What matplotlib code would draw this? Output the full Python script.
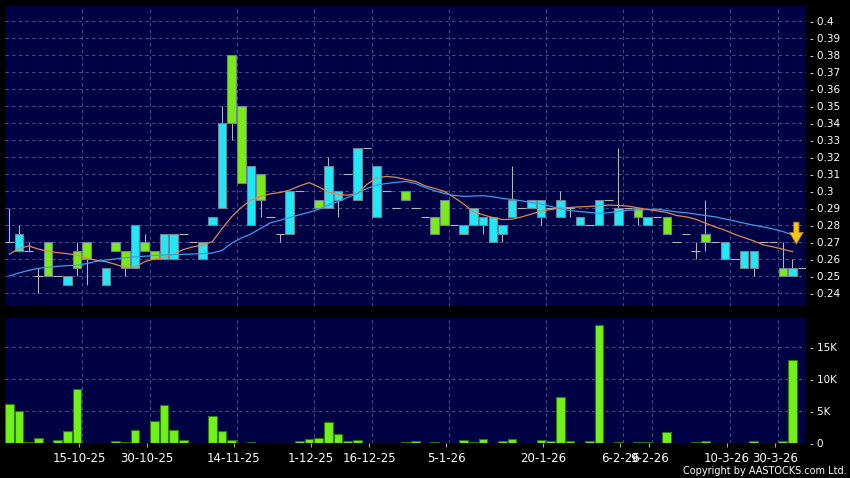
import numpy as np
import matplotlib.pyplot as plt
from matplotlib.patches import FancyArrowPatch

# daily candles, one slot per bar (None = no bar in that slot)
opens = [0.27, 0.265, 0.265, 0.25, 0.27, 0.25, 0.245, 0.265, 0.27, None,
         0.245, 0.27, 0.265, 0.255, 0.27, 0.265, 0.26, 0.26, 0.275, 0.27,
         0.26, 0.28, 0.29, 0.38, 0.35, 0.28, 0.31, 0.285, 0.275, 0.275,
         0.30, None, 0.295, 0.29, 0.295, 0.31, 0.295, 0.325, 0.285, 0.30,
         0.29, 0.30, 0.29, 0.285, 0.285, 0.295, 0.28, 0.275, 0.28, 0.28,
         0.27, 0.275, 0.285, 0.29, 0.29, 0.285, 0.29, 0.285, 0.29, 0.28,
         0.28, 0.28, 0.295, 0.28, 0.29, 0.29, 0.28, 0.285, 0.285, 0.27,
         0.275, 0.265, 0.275, 0.27, 0.26, 0.26, 0.255, 0.255, 0.27, 0.27,
         0.255, 0.25]
highs = [0.29, 0.28, 0.27, 0.255, 0.27, 0.25, 0.25, 0.27, 0.27, None,
         0.255, 0.27, 0.265, 0.28, 0.275, 0.265, 0.275, 0.275, 0.275, 0.27,
         0.27, 0.285, 0.35, 0.38, 0.35, 0.315, 0.31, 0.285, 0.275, 0.30,
         0.30, None, 0.295, 0.32, 0.30, 0.31, 0.325, 0.325, 0.315, 0.30,
         0.29, 0.30, 0.29, 0.285, 0.285, 0.295, 0.28, 0.28, 0.29, 0.285,
         0.285, 0.28, 0.315, 0.29, 0.295, 0.295, 0.29, 0.30, 0.29, 0.285,
         0.28, 0.295, 0.295, 0.325, 0.29, 0.29, 0.285, 0.285, 0.285, 0.27,
         0.275, 0.27, 0.295, 0.27, 0.27, 0.26, 0.265, 0.265, 0.27, 0.27,
         0.27, 0.26]
lows = [0.27, 0.265, 0.265, 0.24, 0.25, 0.25, 0.245, 0.25, 0.245, None,
        0.245, 0.265, 0.25, 0.255, 0.265, 0.26, 0.26, 0.26, 0.275, 0.27,
        0.26, 0.28, 0.29, 0.33, 0.305, 0.28, 0.285, 0.285, 0.27, 0.275,
        0.30, None, 0.29, 0.29, 0.285, 0.31, 0.295, 0.325, 0.285, 0.30,
        0.29, 0.295, 0.29, 0.285, 0.275, 0.28, 0.28, 0.275, 0.28, 0.275,
        0.27, 0.27, 0.285, 0.29, 0.29, 0.28, 0.29, 0.285, 0.285, 0.28,
        0.28, 0.28, 0.295, 0.28, 0.29, 0.28, 0.28, 0.285, 0.275, 0.27,
        0.275, 0.26, 0.265, 0.27, 0.26, 0.26, 0.255, 0.25, 0.27, 0.27,
        0.25, 0.25]
closes = [0.27, 0.275, 0.265, 0.25, 0.25, 0.25, 0.25, 0.255, 0.26, None,
          0.255, 0.265, 0.255, 0.28, 0.265, 0.26, 0.275, 0.275, 0.275, 0.27,
          0.27, 0.285, 0.34, 0.34, 0.305, 0.315, 0.295, 0.285, 0.275, 0.30,
          0.30, None, 0.29, 0.315, 0.30, 0.31, 0.325, 0.325, 0.315, 0.30,
          0.29, 0.295, 0.29, 0.285, 0.275, 0.28, 0.28, 0.28, 0.29, 0.285,
          0.285, 0.28, 0.295, 0.29, 0.295, 0.295, 0.29, 0.295, 0.29, 0.285,
          0.28, 0.295, 0.295, 0.29, 0.29, 0.285, 0.285, 0.285, 0.275, 0.27,
          0.275, 0.265, 0.27, 0.27, 0.27, 0.26, 0.265, 0.265, 0.27, 0.27,
          0.25, 0.255]

# volume in thousands of shares
volumes_k = [6.1, 5.1, 0.15, 0.9, 0, 0.5, 1.9, 8.5, 0.05, 0,
             0, 0.4, 0.15, 2.0, 0, 3.5, 6.0, 2.0, 0.5, 0,
             0, 4.2, 1.9, 0.5, 0.1, 0.2, 0, 0, 0.1, 0,
             0.4, 0.6, 0.8, 3.4, 1.5, 0.35, 0.5, 0, 0, 0,
             0, 0.15, 0.35, 0, 0.15, 0, 0, 0.5, 0.2, 0.6,
             0, 0.35, 0.7, 0, 0, 0.5, 0.35, 7.2, 0.3, 0,
             0.35, 18.5, 0, 0.15, 0, 0.15, 0.15, 0, 1.8, 0,
             0, 0.2, 0.35, 0, 0, 0, 0, 0.3, 0, 0,
             0.3, 13.0]

# moving averages
ma_short = [0.263, 0.2663, 0.2678, 0.2660, 0.2647, 0.2639, 0.2633, 0.2625, 0.2606, 0.2594,
            0.2586, 0.2570, 0.2551, 0.2555, 0.2586, 0.2602, 0.2610, 0.2630, 0.2657, 0.2673,
            0.2684, 0.2703, 0.2780, 0.2850, 0.2905, 0.2948, 0.2970, 0.2984, 0.2992, 0.3006,
            0.3030, 0.3050, 0.3025, 0.2994, 0.2980, 0.2976, 0.2988, 0.3040, 0.3078, 0.3086,
            0.3081, 0.3068, 0.3057, 0.3031, 0.3016, 0.2998, 0.2963, 0.2924, 0.2878, 0.2861,
            0.2845, 0.2833, 0.2835, 0.2849, 0.2865, 0.2884, 0.2892, 0.2902, 0.2904, 0.2908,
            0.2910, 0.2914, 0.2918, 0.2916, 0.2912, 0.2902, 0.2892, 0.2884, 0.2875, 0.2857,
            0.2849, 0.2835, 0.2812, 0.2790, 0.2771, 0.2747, 0.2727, 0.2708, 0.2684, 0.2673,
            0.2659, 0.2645]
ma_long = [0.2502, 0.2520, 0.2535, 0.2547, 0.2553, 0.2559, 0.2563, 0.2565, 0.2575, 0.2588,
           0.2596, 0.2602, 0.2610, 0.2614, 0.2618, 0.2622, 0.2625, 0.2627, 0.2629, 0.2631,
           0.2633, 0.2637, 0.2652, 0.2695, 0.2725, 0.2749, 0.2782, 0.2814, 0.2829, 0.2845,
           0.2861, 0.2876, 0.2894, 0.2918, 0.2939, 0.2963, 0.2986, 0.3016, 0.3035, 0.3045,
           0.3051, 0.3057, 0.3045, 0.3022, 0.3002, 0.2986, 0.2975, 0.2969, 0.2971, 0.2973,
           0.2967, 0.2957, 0.2951, 0.2943, 0.2933, 0.2924, 0.2910, 0.2896, 0.2886, 0.2880,
           0.2875, 0.2869, 0.2873, 0.2882, 0.2888, 0.2890, 0.2892, 0.2894, 0.2886, 0.2878,
           0.2873, 0.2865, 0.2857, 0.2849, 0.2837, 0.2825, 0.2812, 0.2800, 0.2790, 0.2778,
           0.2763, 0.2743]

date_labels = ["15-10-25", "30-10-25", "14-11-25", "1-12-25", "16-12-25", "5-1-26",
               "20-1-26", "6-2-26", "9-2-26", "10-3-26", "30-3-26"]
date_slots = [7, 14, 23, 31, 37, 45, 55, 63, 66, 74, 79]
price_ticks = [0.24, 0.25, 0.26, 0.27, 0.28, 0.29, 0.30, 0.31, 0.32,
               0.33, 0.34, 0.35, 0.36, 0.37, 0.38, 0.39, 0.40]
volume_ticks = [0, 5000, 10000, 15000]
volume_tick_labels = ["0", "5K", "10K", "15K"]

BG = "#000044"
GRID = "#4a4a88"
UP = "#22e8f6"
DOWN = "#7aea18"
WICK = "#b4b4b4"

o = np.array(opens, dtype=float)
h = np.array(highs, dtype=float)
l = np.array(lows, dtype=float)
c = np.array(closes, dtype=float)
x = np.arange(len(o))

fig = plt.figure(figsize=(8.5, 4.78), dpi=100, facecolor="black")
ax = fig.add_axes([5 / 850, 1 - 306 / 478, 801 / 850, 300 / 478], facecolor=BG)
axv = fig.add_axes([5 / 850, 1 - 443.3 / 478, 801 / 850, 125 / 478], facecolor=BG)

for a in (ax, axv):
    for s in a.spines.values():
        s.set_visible(False)
    a.set_xlim(-0.45, 82.4)
    for k in date_slots:
        a.axvline(k + 0.5, color=GRID, lw=0.8, ls=(0, (3, 3)), zorder=0)
    a.yaxis.tick_right()
    a.tick_params(axis="y", length=0, pad=3, colors="white", labelsize=7.5)

# price panel
ax.set_ylim(0.2326, 0.4086)
ax.set_yticks(price_ticks)
ax.set_yticklabels([f"- {v:g}" for v in price_ticks])
ax.set_xticks([])
for v in price_ticks:
    ax.axhline(v, color=GRID, lw=0.8, ls=(0, (3, 3)), zorder=0)

ax.vlines(x, l, h, color=WICK, lw=0.8, zorder=2)
up = c > o
down = c < o
flat = c == o
ax.bar(x[up], (c - o)[up], bottom=o[up], width=0.88, color=UP,
       edgecolor="#6f8595", lw=0.8, zorder=3)
ax.bar(x[down], (o - c)[down], bottom=c[down], width=0.88, color=DOWN,
       edgecolor="#6f8595", lw=0.8, zorder=3)
ax.hlines(c[flat], x[flat] - 0.45, x[flat] + 0.45, color=WICK, lw=0.8, zorder=3)
ax.hlines(c[-1], x[-1] + 0.55, x[-1] + 1.4, color=WICK, lw=0.8, zorder=3)

ax.plot(x, ma_short, color="#e2874a", lw=0.9, zorder=4)
ax.plot(x, ma_long, color="#3a9ee8", lw=0.9, zorder=4)

arrow = FancyArrowPatch((81.4, 0.2818), (81.4, 0.2689),
                        arrowstyle="simple,head_length=0.85,head_width=1.0,tail_width=0.38",
                        mutation_scale=10, fc="#f6c41c", ec="#a87a00", lw=0.6,
                        shrinkA=0, shrinkB=0, zorder=6)
ax.add_patch(arrow)

# volume panel
vol = np.array(volumes_k) * 1000
axv.set_ylim(0, 19500)
axv.set_yticks(volume_ticks)
axv.set_yticklabels([f"- {t}" for t in volume_tick_labels])
for v in volume_ticks[1:]:
    axv.axhline(v, color=GRID, lw=0.8, ls=(0, (3, 3)), zorder=0)
axv.bar(x, vol, width=0.9, color="#72f01c", edgecolor="#2c7a00", lw=0.8, zorder=3)
axv.set_xticks([k + 0.2 for k in date_slots])
axv.set_xticklabels(date_labels)
axv.tick_params(axis="x", length=3, pad=3, colors="white", labelsize=8.5)
axv.tick_params(axis="x", color="#aaaaaa")

fig.text(0.996, 0.0146, "Copyright by AASTOCKS.com Ltd.", ha="right", va="center",
         color="white", fontsize=7)

plt.savefig("out.png", dpi=100, facecolor="black")
